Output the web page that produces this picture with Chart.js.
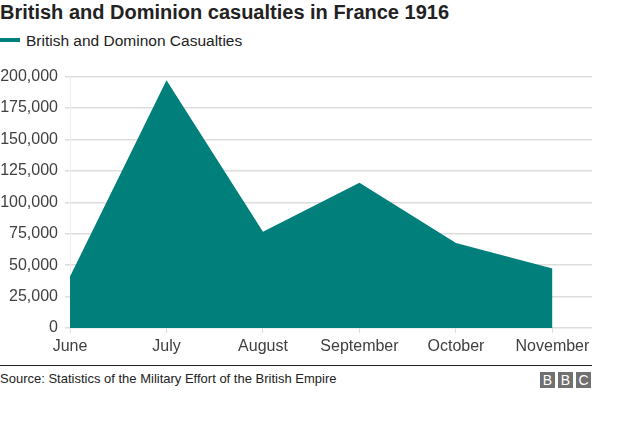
<!DOCTYPE html>
<html>
<head>
<meta charset="utf-8">
<script src="https://cdn.jsdelivr.net/npm/chart.js@4"></script>
<style>
  body{margin:0;background:#fff;font-family:"Liberation Sans",Arial,sans-serif;width:624px;height:424px;position:relative;overflow:hidden}
  .title{position:absolute;left:0;top:0;font-size:20px;font-weight:bold;color:#222;line-height:24px}
  .legend{position:absolute;left:0;top:31px;font-size:15.5px;color:#222;line-height:20px}
  .legend .sw{display:inline-block;width:20px;height:4px;background:#017f7b;vertical-align:middle;margin-right:6px;position:relative;top:-2px}
  .chart-wrap{position:absolute;left:0;top:60px;width:624px;height:301px}
  .rule{position:absolute;left:0;top:365px;width:592px;height:1px;background:#222}
  .source{position:absolute;left:0;top:371px;font-size:13px;color:#222}
  .bbc{position:absolute;left:540px;top:372px;display:flex;gap:3px}
  .bbc span{width:15px;height:16px;background:#707070;color:#fff;font-size:14px;display:flex;align-items:center;justify-content:center}
</style>
</head>
<body>
<div class="title">British and Dominion casualties in France 1916</div>
<div class="legend"><span class="sw"></span>British and Dominon Casualties</div>
<div class="chart-wrap"><canvas id="chartCas"></canvas></div>
<div class="rule"></div>
<div class="source">Source: Statistics of the Military Effort of the British Empire</div>
<div class="bbc"><span>B</span><span>B</span><span>C</span></div>
<script>
const months = ['June','July','August','September','October','November'];
const casualties = [41000,197000,76500,115500,67700,47300];
const yTicks = [0,25000,50000,75000,100000,125000,150000,175000,200000];

const pts = casualties.map((v,i)=>({x:i,y:v}));
const c = document.getElementById('chartCas');
new Chart(c,{type:'line',
  data:{datasets:[{label:'British and Dominon Casualties',data:pts,
    backgroundColor:'#017f7b',borderWidth:0,pointRadius:0,fill:'origin',tension:0}]},
  options:{responsive:true,maintainAspectRatio:false,animation:false,
    layout:{padding:{top:11.5,right:32,left:0,bottom:0}},
    plugins:{legend:{display:false},tooltip:{enabled:false}},
    scales:{
      x:{type:'linear',min:0,max:5.41,
        afterBuildTicks:s=>{s.ticks=months.map((m,i)=>({value:i}));},
        afterFit:s=>{s.height=33;},
        grid:{drawOnChartArea:false,drawTicks:true,tickLength:5,color:'#dddddd'},
        border:{display:false},
        ticks:{callback:v=>months[v],color:'#404040',font:{family:'Liberation Sans',size:16},padding:4,maxRotation:0,autoSkip:false}},
      y:{min:0,max:200000,
        afterBuildTicks:s=>{s.ticks=yTicks.map(v=>({value:v}));},
        afterFit:s=>{s.width=70;},
        grid:{color:'#dddddd',lineWidth:1.5,drawTicks:true,tickLength:5},
        border:{display:true,color:'#eeeeee',width:1},
        ticks:{callback:v=>v.toLocaleString('en-GB'),color:'#404040',font:{family:'Liberation Sans',size:16},padding:7}}
    }}});
</script>
</body>
</html>
